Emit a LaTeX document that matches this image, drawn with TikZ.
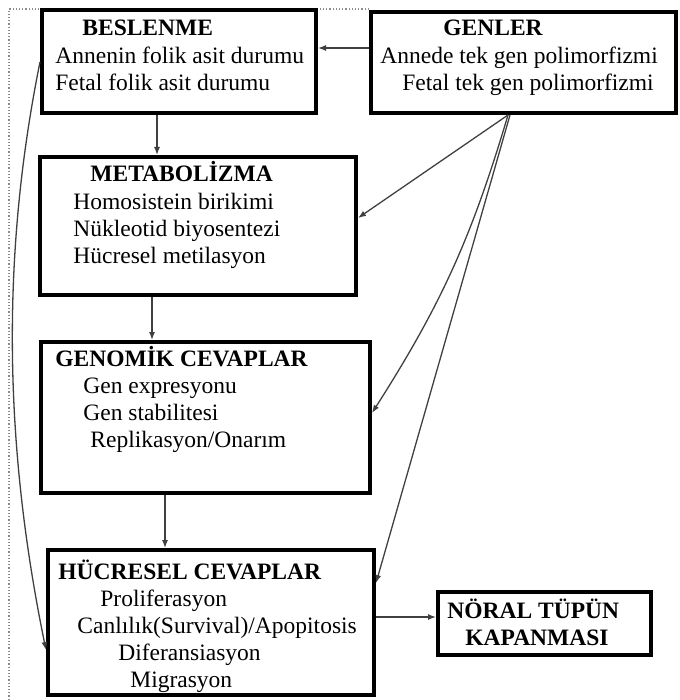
\documentclass[tikz,border=0pt]{standalone}
\usepackage{fontspec}
\setmainfont{Liberation Serif}
\usetikzlibrary{arrows.meta}
\begin{document}
\begin{tikzpicture}[x=0.5pt,y=-0.5pt,
  box/.style={draw=black,line width=2pt,fill=white,rectangle,inner sep=0pt},
  txt/.style={anchor=base west,inner sep=0pt,font=\fontsize{11.75pt}{13.4pt}\selectfont},
  head/.style={txt,font=\fontsize{11.75pt}{13.4pt}\selectfont\bfseries},
  conn/.style={draw=black!75,line width=0.65pt,-{Latex[length=4pt,width=3pt]}}]
\useasboundingbox (0,0) rectangle (679,700);
% dotted frame
\draw[densely dotted,black!45,line width=0.6pt] (369,9) -- (9,9) -- (9,700);
% boxes
\node[box,minimum width=137pt,minimum height=51.5pt] (bes) at (179,61.5) {};
\node[box,minimum width=152.5pt,minimum height=50.5pt] (gen) at (523.5,62.5) {};
\node[box,minimum width=158pt,minimum height=69pt] (met) at (198,226) {};
\node[box,minimum width=164.5pt,minimum height=75.5pt] (genom) at (205.5,417.5) {};
\node[box,minimum width=163pt,minimum height=72.5pt] (huc) at (211,622.5) {};
\node[box,minimum width=106.5pt,minimum height=31.5pt] (nor) at (544.5,623.5) {};
% texts
\node[head] (t1) at (82,36) {BESLENME};
\node[txt] (t2) at (55,64) {Annenin folik asit durumu};
\node[txt] (t3) at (55,91) {Fetal folik asit durumu};
\node[head] (t4) at (443,36) {GENLER};
\node[txt] (t5) at (380,64) {Annede tek gen polimorfizmi};
\node[txt] (t6) at (402,91) {Fetal tek gen polimorfizmi};
\node[head] (t7) at (90,182) {METABOLİZMA};
\node[txt] (t8) at (73,209) {Homosistein birikimi};
\node[txt] (t9) at (73,236) {Nükleotid biyosentezi};
\node[txt] (t10) at (73,263) {Hücresel metilasyon};
\node[head] (t11) at (55,366) {GENOMİK CEVAPLAR};
\node[txt] (t12) at (83,393) {Gen expresyonu};
\node[txt] (t13) at (83,420) {Gen stabilitesi};
\node[txt] (t14) at (90,447) {Replikasyon/Onarım};
\node[head] (t15) at (58,579) {HÜCRESEL CEVAPLAR};
\node[txt] (t16) at (100,606) {Proliferasyon};
\node[txt] (t17) at (77,633) {Canlılık(Survival)/Apopitosis};
\node[txt] (t18) at (118,660) {Diferansiasyon};
\node[txt] (t19) at (130,687) {Migrasyon};
\node[head] (t20) at (447,618) {NÖRAL TÜPÜN};
\node[head] (t21) at (465,645) {KAPANMASI};
% connectors
\draw[conn] (gen.west |- 0,48) -- (bes.east |- 0,48);
\draw[conn] (bes.south -| 157,0) -- (met.north -| 157,0);
\draw[conn] (met.south -| 152,0) -- (genom.north -| 152,0);
\draw[conn] (genom.south -| 165,0) -- (huc.north -| 165,0);
\draw[conn] (huc.east |- 0,617) -- (nor.west |- 0,617);
\draw[conn] (gen.south -| 508,0) -- (met.east |- 0,218);
\draw[conn] (gen.south -| 508,0) to[bend left=8] (genom.east |- 0,413);
\draw[conn] (gen.south -| 510,0) -- (huc.east |- 0,583);
\draw[conn] (bes.west |- 0,62) .. controls (0,260) and (5,450) .. (huc.west |- 0,650);
\end{tikzpicture}
\end{document}
